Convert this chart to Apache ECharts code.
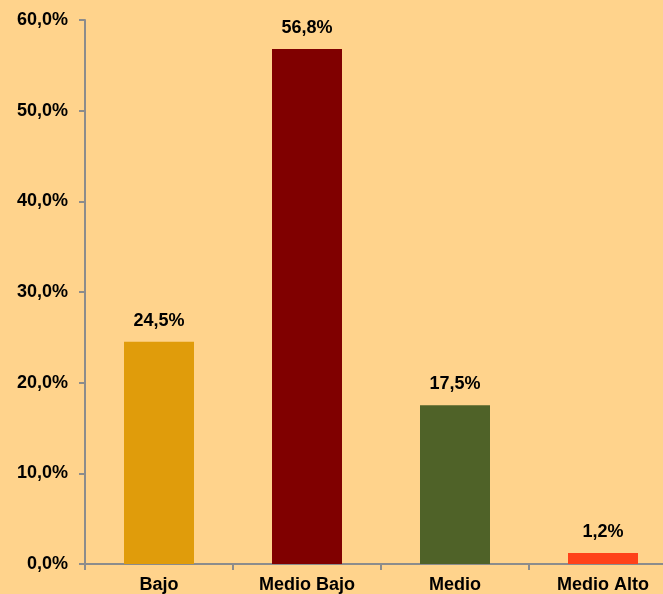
<!DOCTYPE html>
<html>
<head>
<meta charset="utf-8">
<script src="https://cdn.jsdelivr.net/npm/echarts@6/dist/echarts.min.js"></script>
<style>
html,body{margin:0;padding:0;background:#FFD38C;}
#c{width:663px;height:594px;}
</style>
</head>
<body>
<div id="c"></div>
<script>
const categories = ['Bajo', 'Medio Bajo', 'Medio', 'Medio Alto'];
const values = [24.5, 56.8, 17.5, 1.2];
const barColors = ['#E09C0B', '#800000', '#4F6228', '#FF4119'];
const yTicks = [0, 10, 20, 30, 40, 50, 60];

const fmt = v => v.toFixed(1).replace('.', ',') + '%';
const chart = echarts.init(document.getElementById('c'));
chart.setOption({
  backgroundColor: '#FFD38C',
  animation: false,
  grid: { left: 85, top: 20, right: -14, bottom: 30, containLabel: false, outerBoundsMode: 'none' },
  xAxis: {
    type: 'category',
    data: categories,
    axisLine: { lineStyle: { color: '#8C8C8C', width: 2 } },
    axisTick: { show: true, length: 6, lineStyle: { color: '#8C8C8C', width: 2 } },
    axisLabel: { margin: 12, color: '#000', fontFamily: 'Liberation Sans, Arial', fontWeight: 'bold', fontSize: 18 }
  },
  yAxis: {
    type: 'value',
    min: yTicks[0],
    max: yTicks[yTicks.length - 1],
    interval: 10,
    splitLine: { show: false },
    axisLine: { show: true, lineStyle: { color: '#8C8C8C', width: 2 } },
    axisTick: { show: true, length: 6, lineStyle: { color: '#8C8C8C', width: 2 } },
    axisLabel: { margin: 17, color: '#000', fontFamily: 'Liberation Sans, Arial', fontWeight: 'bold', fontSize: 18, formatter: fmt }
  },
  series: [{
    type: 'bar',
    barWidth: 70,
    data: values.map((v, i) => ({ value: v, itemStyle: { color: barColors[i] } })),
    label: {
      show: true, position: 'top', distance: 12, color: '#000',
      fontFamily: 'Liberation Sans, Arial', fontWeight: 'bold', fontSize: 18,
      formatter: p => fmt(p.value)
    }
  }]
});
</script>
</body>
</html>
